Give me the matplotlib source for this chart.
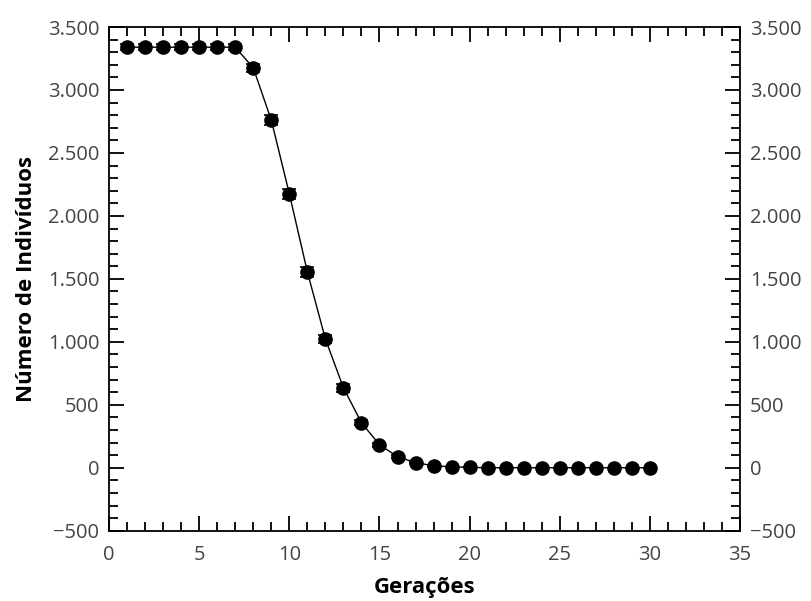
import numpy as np
import matplotlib.pyplot as plt
from matplotlib.ticker import MultipleLocator, FuncFormatter

# geracoes e numero medio de individuos
geracoes = np.arange(1, 31)
individuos = [3340, 3340, 3340, 3340, 3340, 3340, 3340, 3175, 2760, 2175,
              1555, 1022, 635, 357, 183, 88, 40, 16, 7, 3,
              0, 0, 0, 0, 0, 0, 0, 0, 0, 0]
erros = [25, 25, 25, 25, 25, 25, 25, 35, 40, 40,
         40, 35, 30, 20, 15, 10, 5, 3, 2, 1,
         0, 0, 0, 0, 0, 0, 0, 0, 0, 0]


def milhar(v, pos):
    s = '{:,.0f}'.format(abs(v)).replace(',', '.')
    return ('\u2212' + s) if v < 0 else s


plt.rcParams['font.family'] = ['Open Sans', 'DejaVu Sans']

fig = plt.figure(figsize=(8.11, 6.01), dpi=100)
ax = fig.add_axes([0.1345, 0.117, 0.778, 0.838])

ax.errorbar(geracoes, individuos, yerr=erros, color='black', lw=1.0,
            marker='o', ms=9.5, mfc='black', mec='black',
            ecolor='black', elinewidth=1.2, capsize=5, capthick=1.2)

ax.set_xlim(0, 35)
ax.set_ylim(-500, 3500)
ax.xaxis.set_major_locator(MultipleLocator(5))
ax.xaxis.set_minor_locator(MultipleLocator(1))
ax.yaxis.set_major_locator(MultipleLocator(500))
ax.yaxis.set_minor_locator(MultipleLocator(100))
ax.yaxis.set_major_formatter(FuncFormatter(milhar))

for s in ax.spines.values():
    s.set_linewidth(1.3)

ax.tick_params(which='both', direction='in', top=True, right=True,
               labelright=True, width=1.3, labelsize=14.5,
               labelcolor='#444444', pad=7)
ax.tick_params(axis='x', which='both', pad=10)
ax.tick_params(which='major', length=11)
ax.tick_params(which='minor', length=6.5)

ax.set_xlabel('Gerações', fontsize=16, fontweight='bold', labelpad=9)
ax.set_ylabel('Número de Indivíduos', fontsize=16, fontweight='bold', labelpad=8)

fig.savefig('out.png', dpi=100)
